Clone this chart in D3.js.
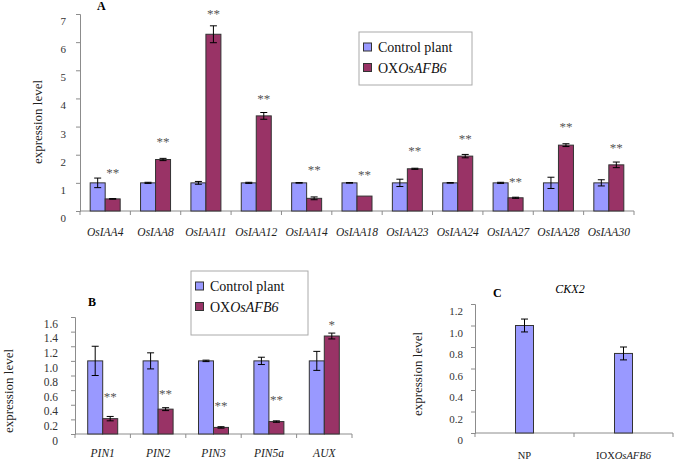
<!DOCTYPE html>
<html><head><meta charset="utf-8">
<script src="https://cdn.jsdelivr.net/npm/d3@7"></script>
</head><body style="margin:0;background:#fff"><svg id="c" width="675" height="462"></svg>
<script>
// Panel A
const catsA = ["OsIAA4","OsIAA8","OsIAA11","OsIAA12","OsIAA14","OsIAA18","OsIAA23","OsIAA24","OsIAA27","OsIAA28","OsIAA30"];
const ctrlA = [1,1,1,1,1,1,1,1,1,1,1];
const ctrlErrA = [0.17,0.02,0.05,0.02,0.01,0.01,0.13,0.01,0.02,0.2,0.11];
const oxA = [0.43,1.83,6.28,3.38,0.45,0.53,1.5,1.95,0.47,2.34,1.64];
const oxErrA = [0.01,0.04,0.3,0.12,0.05,0.0,0.02,0.06,0.02,0.05,0.1];
const sigA = ["**","**","**","**","**","**","**","**","**","**","**"];
const sigLevelA = [1.42,2.52,7.07,4.05,1.53,1.35,2.2,2.63,1.1,3.06,2.31];
const ticksA = [0,1,2,3,4,5,6,7];
// Panel B
const catsB = ["PIN1","PIN2","PIN3","PIN5a","AUX"];
const ctrlB = [1,1,1,1,1];
const ctrlErrB = [0.2,0.11,0.01,0.05,0.13];
const oxB = [0.21,0.34,0.09,0.17,1.34];
const oxErrB = [0.03,0.02,0.01,0.01,0.04];
const sigB = ["**","**","**","**","*"];
const sigLevelB = [0.53,0.57,0.41,0.49,1.52];
const ticksB = [0,0.2,0.4,0.6,0.8,1.0,1.2,1.4,1.6];
// Panel C
const catsC = ["NP","IOXOsAFB6"];
const valC = [1.0,0.74];
const errC = [0.06,0.06];
const ticksC = [0,0.2,0.4,0.6,0.8,1.0,1.2];
const seriesNames = ["Control plant","OXOsAFB6"];

const COL_CTRL = "#9999ff", COL_OX = "#993366", AXC = "#8c8c8c";
const FONT = '"Liberation Serif"';
const svg = d3.select("#c");

function richText(sel, str){
  const m = str.match(/^(I?OX)(.*)$/);
  if (m){
    sel.append("tspan").text(m[1]);
    sel.append("tspan").style("font-style","italic").text(m[2]);
  } else sel.text(str);
}

function drawPanel(o){
  const g = svg.append("g");
  const x = d3.scaleBand().domain(o.cats).range([o.x0,o.x1]);
  const y = d3.scaleLinear().domain([0,o.ymax]).range([o.y0,o.y1]);
  const ya = g.append("g").attr("transform",`translate(${o.x0},0)`)
    .call(d3.axisLeft(y).tickValues(o.ticks).tickSize(4).tickFormat(o.fmt));
  ya.select(".domain").attr("stroke",AXC);
  ya.selectAll(".tick line").attr("stroke",AXC);
  ya.selectAll(".tick text").attr("fill","#333").style("font-size",o.tfs+"px")
    .attr("x",o.tx).attr("y",o.tdy);
  g.append("line").attr("x1",o.x0).attr("x2",o.x1).attr("y1",o.y0).attr("y2",o.y0).attr("stroke",AXC);
  const seps = o.cats.map(c=>x(c)).concat([o.x1]);
  g.selectAll(".sep").data(seps).join("line").attr("x1",d=>d).attr("x2",d=>d)
    .attr("y1",o.y0).attr("y2",o.y0+4).attr("stroke",AXC);
  g.selectAll(".cl").data(o.cats).join("text")
    .attr("x",d=>x(d)+x.bandwidth()/2).attr("y",o.labY)
    .attr("text-anchor","middle").style("font-size",o.cfs+"px").attr("fill","#222")
    .style("font-style",o.catItalic?"italic":"normal")
    .each(function(d){ if(o.catItalic) d3.select(this).text(d); else richText(d3.select(this),d); });
  o.series.forEach((s,si)=>{
    const bw = o.bw;
    const cx = i => x(o.cats[i]) + x.bandwidth()/2 + (o.series.length===1?0:(si===0?-bw/2:bw/2));
    g.selectAll(null).data(s.vals).join("rect")
      .attr("x",(d,i)=>cx(i)-bw/2).attr("width",bw)
      .attr("y",d=>y(d)).attr("height",d=>o.y0-y(d))
      .attr("fill",s.color).attr("stroke","#333").attr("stroke-width",1);
    s.vals.forEach((v,i)=>{
      const e = s.errs[i]; if(!e) return;
      const xc = cx(i);
      g.append("line").attr("x1",xc).attr("x2",xc).attr("y1",y(v+e)).attr("y2",y(v-e)).attr("stroke","#000");
      [v+e,v-e].forEach(t=>g.append("line").attr("x1",xc-3.5).attr("x2",xc+3.5).attr("y1",y(t)).attr("y2",y(t)).attr("stroke","#000"));
    });
    if (s.sig){
      g.selectAll(null).data(s.sig).join("text")
        .attr("x",(d,i)=>cx(i)).attr("y",(d,i)=>y(s.sigLevel[i])+6)
        .attr("text-anchor","middle").style("font-size","13px").attr("fill","#555").text(d=>d);
    }
  });
  g.append("text").attr("transform",`translate(${o.ylx},${o.yly}) rotate(-90)`)
    .attr("text-anchor","middle").style("font-size",o.ylfs+"px").attr("fill","#222").text("expression level");
  return {x,y};
}

function legend(x0,y0,w,h){
  const g = svg.append("g");
  g.append("rect").attr("x",x0).attr("y",y0).attr("width",w).attr("height",h)
    .attr("fill","#fff").attr("stroke","#aaa");
  [COL_CTRL,COL_OX].forEach((c,i)=>{
    const base = y0 + (i===0?20:40.5);
    g.append("rect").attr("x",x0+4.5).attr("y",base-9).attr("width",8).attr("height",8)
      .attr("fill",c).attr("stroke","#333");
    const t = g.append("text").attr("x",x0+19).attr("y",base).style("font-size","14px").attr("fill","#111");
    richText(t, seriesNames[i]);
  });
}

drawPanel({cats:catsA,x0:80,x1:634,y0:211,y1:14,ymax:7,ticks:ticksA,fmt:d3.format("d"),
  tfs:11,tx:-14,tdy:7,cfs:11.5,catItalic:true,labY:236,bw:15,ylx:42,yly:122,ylfs:13,
  series:[{vals:ctrlA,errs:ctrlErrA,color:COL_CTRL},{vals:oxA,errs:oxErrA,color:COL_OX,sig:sigA,sigLevel:sigLevelA}]});
svg.append("text").attr("x",97).attr("y",10).style("font-weight","bold").style("font-size","12px").text("A");
legend(359,32,113,53);

const fmtB = d => d===0 ? "0" : d3.format(".1f")(d);
drawPanel({cats:catsB,x0:75,x1:352,y0:434,y1:317,ymax:1.6,ticks:ticksB,fmt:fmtB,
  tfs:11.5,tx:-17,tdy:6.5,cfs:11.5,catItalic:true,labY:457,bw:15,ylx:13,yly:391,ylfs:13,
  series:[{vals:ctrlB,errs:ctrlErrB,color:COL_CTRL},{vals:oxB,errs:oxErrB,color:COL_OX,sig:sigB,sigLevel:sigLevelB}]});
svg.append("text").attr("x",88).attr("y",306).style("font-weight","bold").style("font-size","12px").text("B");
legend(191,271,117,64);

drawPanel({cats:catsC,x0:475,x1:673,y0:433,y1:304,ymax:1.2,ticks:ticksC,fmt:fmtB,
  tfs:11,tx:-12,tdy:7,cfs:10.5,catItalic:false,labY:459,bw:18,ylx:422,yly:374,ylfs:13,
  series:[{vals:valC,errs:errC,color:COL_CTRL}]});
svg.append("text").attr("x",493).attr("y",297).style("font-weight","bold").style("font-size","12px").text("C");
svg.append("text").attr("x",570).attr("y",293).attr("text-anchor","middle").style("font-style","italic").style("font-size","12px").text("CKX2");
svg.selectAll("text").style("font-family",FONT);
</script></body></html>
